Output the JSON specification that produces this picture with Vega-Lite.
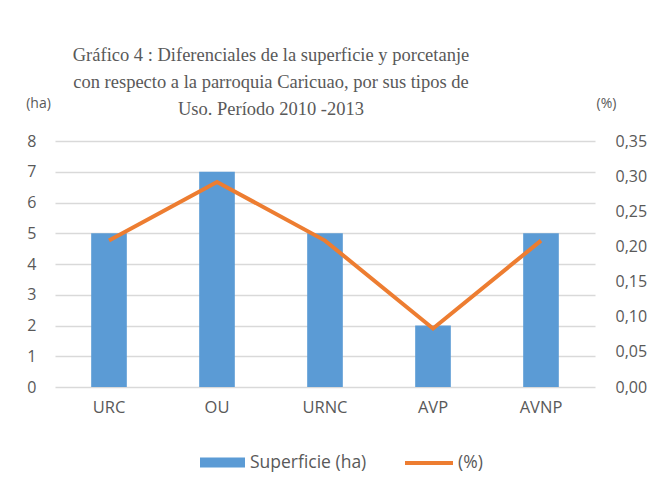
{
  "$schema": "https://vega.github.io/schema/vega-lite/v6.json",
  "width": 540,
  "height": 246,
  "autosize": {"type": "none"},
  "padding": {"left": 55, "top": 141, "right": 62, "bottom": 99},
  "background": "white",
  "title": {
    "text": ["Gráfico 4 : Diferenciales de la superficie y porcetanje", "con respecto a la parroquia Caricuao,  por sus tipos de", "Uso.  Período 2010 -2013"],
    "font": "Liberation Serif",
    "fontSize": 18.5,
    "fontWeight": "normal",
    "color": "#595959",
    "lineHeight": 27,
    "anchor": "middle",
    "frame": "group",
    "dx": -54,
    "offset": -22
  },
  "config": {
    "view": {"stroke": null},
    "axis": {"labelFont": "Open Sans", "labelFontSize": 16, "labelColor": "#595959", "titleFont": "Open Sans", "titleFontSize": 14, "titleColor": "#595959", "titleFontWeight": "normal", "domain": false, "ticks": false},
    "legend": {"labelFont": "Open Sans", "labelFontSize": 17.5, "labelColor": "#595959"}
  },
  "data": {
    "values": [
      {"cat": "URC", "superficie": 5, "pct": 0.2083},
      {"cat": "OU", "superficie": 7, "pct": 0.2917},
      {"cat": "URNC", "superficie": 5, "pct": 0.2083},
      {"cat": "AVP", "superficie": 2, "pct": 0.0833},
      {"cat": "AVNP", "superficie": 5, "pct": 0.2083}
    ]
  },
  "encoding": {
    "x": {
      "field": "cat", "type": "nominal", "sort": null,
      "scale": {"paddingInner": 0.67, "paddingOuter": 0.335},
      "axis": {"title": null, "labelAngle": 0, "labelPadding": 12, "labelFontSize": 16.5}
    }
  },
  "layer": [
    {
      "mark": {"type": "bar", "color": "#5B9BD5"},
      "encoding": {
        "y": {
          "field": "superficie", "type": "quantitative",
          "scale": {"domain": [0, 8]},
          "axis": {"values": [0, 1, 2, 3, 4, 5, 6, 7, 8], "grid": true, "gridColor": "#d9d9d9", "gridWidth": 1.3, "labelPadding": 19,
            "title": "(ha)", "titleAngle": 0, "titleX": -17, "titleY": -38, "titleAlign": "center", "titleBaseline": "middle"}
        },
        "fill": {
          "datum": "Superficie (ha)", "type": "nominal",
          "scale": {"range": ["#5B9BD5"]},
          "legend": {"title": null, "orient": "none", "legendX": 145, "legendY": 299, "symbolType": "M-1,-0.22H1V0.22H-1Z", "symbolSize": 2025, "symbolStrokeWidth": 0, "labelOffset": 5}
        }
      }
    },
    {
      "mark": {"type": "line", "color": "#ED7D31", "strokeWidth": 4},
      "encoding": {
        "y": {
          "field": "pct", "type": "quantitative",
          "scale": {"domain": [0, 0.35]},
          "axis": {"orient": "right", "values": [0, 0.05, 0.1, 0.15, 0.2, 0.25, 0.3, 0.35], "grid": false, "labelPadding": 20,
            "labelExpr": "replace(format(datum.value, '.2f'), '.', ',')",
            "title": "(%)", "titleAngle": 0, "titleX": 11, "titleY": -38, "titleAlign": "center", "titleBaseline": "middle"}
        },
        "stroke": {
          "datum": "(%)", "type": "nominal",
          "scale": {"range": ["#ED7D31"]},
          "legend": {"title": null, "orient": "none", "legendX": 348, "legendY": 296, "symbolType": "stroke", "symbolSize": 2304, "symbolStrokeWidth": 4, "labelOffset": 3}
        }
      }
    }
  ],
  "resolve": {"scale": {"y": "independent", "fill": "independent", "stroke": "independent"}}
}
